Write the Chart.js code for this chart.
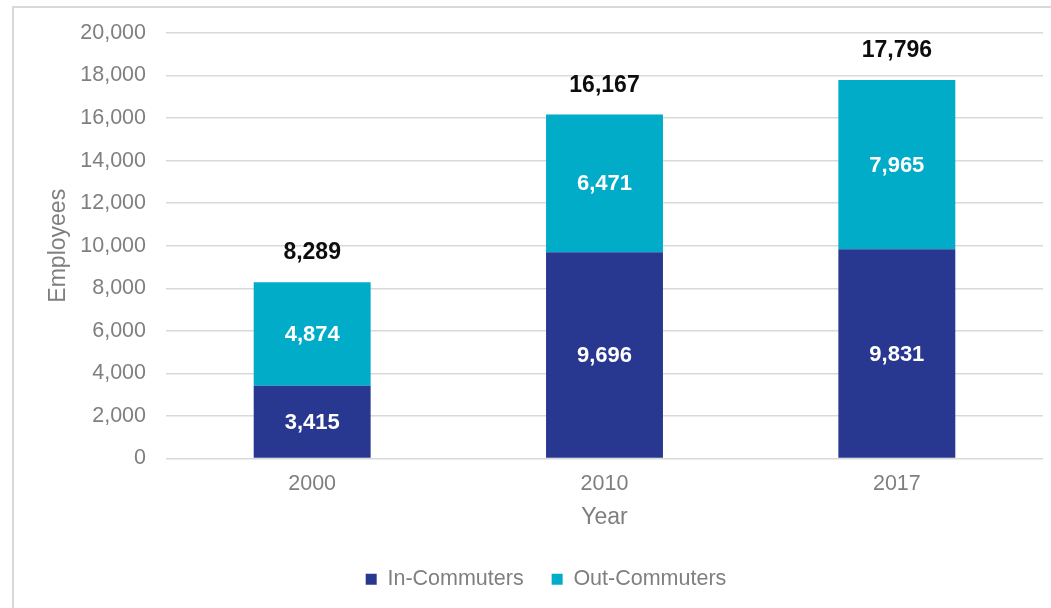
<!DOCTYPE html>
<html>
<head>
<meta charset="utf-8">
<script src="https://cdn.jsdelivr.net/npm/chart.js@4.4.0/dist/chart.umd.min.js"></script>
<style>
  html, body { margin: 0; padding: 0; background: #fff; overflow: hidden; }
  #wrap { position: relative; width: 1051px; height: 608px; overflow: hidden; }
  #frame { position: absolute; left: 12px; top: 6px; width: 1100px; height: 700px;
           border: 2px solid #d9d9d9; box-sizing: border-box; }
  #c { position: absolute; left: 0; top: 0; }
</style>
</head>
<body>
<div id="wrap">
  <div id="frame"></div>
  <canvas id="c" width="1051" height="608"></canvas>
</div>
<script>
// Commuting employees by year
const years = ['2000', '2010', '2017'];
const inCommuters = [3415, 9696, 9831];
const outCommuters = [4874, 6471, 7965];
const seriesNames = ['In-Commuters', 'Out-Commuters'];
const yMin = 0;
const yMax = 20000;
const yStep = 2000;

const FONT = "'Liberation Sans', Arial, sans-serif";
const GRAY = '#7f7f7f';
const fmt = v => Math.round(v).toString().replace(/\B(?=(\d{3})+(?!\d))/g, ',');

// Segment values inside each bar, totals above each stack
const barLabels = {
  id: 'barLabels',
  afterDatasetsDraw(chart) {
    const ctx = chart.ctx;
    ctx.save();
    ctx.textAlign = 'center';
    ctx.textBaseline = 'middle';
    ctx.fillStyle = '#ffffff';
    ctx.font = "bold 22px " + FONT;
    chart.data.datasets.forEach((ds, di) => {
      const meta = chart.getDatasetMeta(di);
      meta.data.forEach((bar, i) => {
        const p = bar.getProps(['x', 'y', 'base'], true);
        ctx.fillText(fmt(ds.data[i]), p.x, (p.y + p.base) / 2 + 1);
      });
    });
    const last = chart.data.datasets.length - 1;
    const topMeta = chart.getDatasetMeta(last);
    ctx.fillStyle = '#0d0d0d';
    ctx.font = "bold 23px " + FONT;
    topMeta.data.forEach((bar, i) => {
      const total = chart.data.datasets.reduce((s, ds) => s + ds.data[i], 0);
      const p = bar.getProps(['x', 'y'], true);
      ctx.fillText(fmt(total), p.x, p.y - 29);
    });
    ctx.restore();
  }
};

new Chart(document.getElementById('c'), {
  type: 'bar',
  data: {
    labels: years,
    datasets: [
      { label: seriesNames[0], data: inCommuters, backgroundColor: '#283891', borderWidth: 0 },
      { label: seriesNames[1], data: outCommuters, backgroundColor: '#00acc8', borderWidth: 0 }
    ]
  },
  options: {
    responsive: false,
    animation: false,
    devicePixelRatio: 1,
    datasets: { bar: { categoryPercentage: 1, barPercentage: 0.4 } },
    layout: { padding: { top: 33, right: 8, bottom: 8, left: 49 } },
    plugins: {
      tooltip: { enabled: false },
      legend: {
        position: 'bottom',
        labels: {
          boxWidth: 11, boxHeight: 11, padding: 28,
          color: GRAY, font: { family: FONT, size: 21.5 }
        }
      }
    },
    scales: {
      x: {
        stacked: true,
        grid: { display: false, drawTicks: false },
        border: { display: false },
        ticks: { color: GRAY, font: { family: FONT, size: 21.5 }, padding: 13 },
        title: { display: true, text: 'Year', color: GRAY,
                 font: { family: FONT, size: 23 }, padding: { top: 0, bottom: 9 } },
        afterFit(scale) { scale.height = 82; }
      },
      y: {
        stacked: true,
        min: yMin, max: yMax,
        grid: { color: '#d9d9d9', lineWidth: 1.5, drawTicks: false },
        border: { display: false },
        ticks: { stepSize: yStep, color: GRAY, font: { family: FONT, size: 21.5 },
                 padding: 20, callback: v => fmt(v) },
        title: { display: true, text: 'Employees', color: GRAY,
                 font: { family: FONT, size: 23, lineHeight: 0.85 }, padding: { top: 0, bottom: 0 } },
        afterFit(scale) { scale.width = 117; }
      }
    }
  },
  plugins: [barLabels]
});
</script>
</body>
</html>
